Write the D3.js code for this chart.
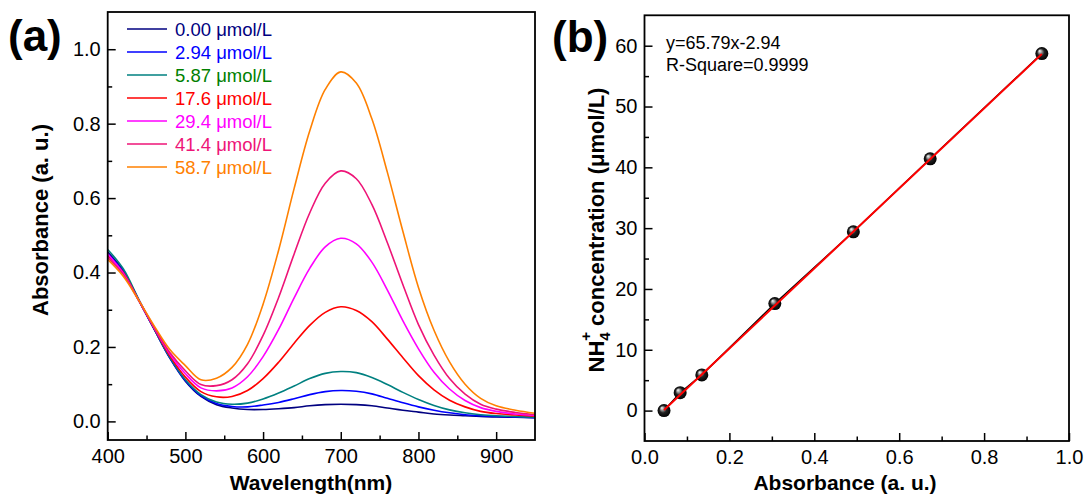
<!DOCTYPE html>
<html>
<head>
<meta charset="utf-8">
<script src="https://cdn.jsdelivr.net/npm/d3@7"></script>
<style>
  body { margin: 0; background: #fff; }
  svg { font-family: "Liberation Sans", Arial, sans-serif; }
</style>
</head>
<body>
<div id="chart"></div>
<script>
// wavelength grid (nm) for the spectra in panel (a)
const wavelengths = [400, 420, 440, 460, 480, 500, 520, 540, 560, 580, 600, 620, 640, 660,
  680, 700, 720, 740, 760, 780, 800, 820, 840, 860, 880, 900, 925, 950];

// absorbance, one array per concentration
const abs000 = [0.455, 0.405, 0.325, 0.247, 0.170, 0.108, 0.067, 0.045, 0.036, 0.032, 0.032, 0.034, 0.037, 0.042,
  0.045, 0.046, 0.045, 0.042, 0.036, 0.030, 0.025, 0.020, 0.017, 0.015, 0.013, 0.012, 0.011, 0.010];
const abs294 = [0.450, 0.403, 0.325, 0.247, 0.171, 0.110, 0.069, 0.048, 0.040, 0.039, 0.044, 0.051, 0.061, 0.072,
  0.080, 0.083, 0.081, 0.074, 0.062, 0.050, 0.039, 0.030, 0.023, 0.018, 0.015, 0.013, 0.012, 0.010];
const abs587 = [0.462, 0.410, 0.328, 0.248, 0.172, 0.112, 0.072, 0.052, 0.046, 0.049, 0.060, 0.076, 0.095, 0.115,
  0.129, 0.134, 0.131, 0.118, 0.099, 0.078, 0.059, 0.043, 0.031, 0.023, 0.018, 0.015, 0.013, 0.011];
const abs176 = [0.445, 0.400, 0.325, 0.249, 0.176, 0.119, 0.080, 0.066, 0.067, 0.083, 0.115, 0.159, 0.210, 0.258,
  0.293, 0.308, 0.298, 0.268, 0.221, 0.171, 0.123, 0.085, 0.057, 0.039, 0.027, 0.021, 0.017, 0.014];
const abs294b = [0.450, 0.398, 0.325, 0.251, 0.181, 0.128, 0.090, 0.082, 0.090, 0.120, 0.174, 0.247, 0.332, 0.411,
  0.469, 0.492, 0.477, 0.428, 0.353, 0.270, 0.195, 0.132, 0.087, 0.056, 0.037, 0.027, 0.020, 0.016];
const abs414 = [0.440, 0.395, 0.325, 0.253, 0.185, 0.136, 0.099, 0.096, 0.112, 0.155, 0.231, 0.333, 0.450, 0.560,
  0.640, 0.673, 0.652, 0.583, 0.480, 0.367, 0.260, 0.178, 0.115, 0.073, 0.046, 0.033, 0.024, 0.018];
const abs587b = [0.435, 0.390, 0.325, 0.256, 0.193, 0.150, 0.112, 0.116, 0.145, 0.207, 0.315, 0.460, 0.626, 0.780,
  0.892, 0.939, 0.909, 0.813, 0.669, 0.510, 0.360, 0.245, 0.160, 0.100, 0.062, 0.042, 0.030, 0.022];

const spectra = [abs000, abs294, abs587, abs176, abs294b, abs414, abs587b];
const legendLabels = ["0.00 μmol/L", "2.94 μmol/L", "5.87 μmol/L", "17.6 μmol/L",
  "29.4 μmol/L", "41.4 μmol/L", "58.7 μmol/L"];
const lineColors = ["#000080", "#0000ff", "#008080", "#ff0000", "#ff00ff", "#ee1477", "#ff8000"];
const textColors = ["#000080", "#0000ff", "#008000", "#ff0000", "#ff00ff", "#ee1477", "#ff8000"];

// calibration points for panel (b)
const calAbsorbance = [0.046, 0.084, 0.135, 0.307, 0.492, 0.673, 0.936];
const calConcentration = [0, 2.94, 5.87, 17.6, 29.4, 41.4, 58.7];
const fitSlope = 65.79;
const fitIntercept = -2.94;

const aTicksX = [400, 500, 600, 700, 800, 900];
const aMinorX = [450, 550, 650, 750, 850];
const aTicksY = [0, 0.2, 0.4, 0.6, 0.8, 1.0];
const aMinorY = [0.1, 0.3, 0.5, 0.7, 0.9];
const bTicksX = [0, 0.2, 0.4, 0.6, 0.8, 1.0];
const bMinorX = [0.1, 0.3, 0.5, 0.7, 0.9];
const bTicksY = [0, 10, 20, 30, 40, 50, 60];
const bMinorY = [5, 15, 25, 35, 45, 55];

const width = 1088, height = 500;

const svg = d3.select("#chart").append("svg")
  .attr("width", width)
  .attr("height", height);

// sphere marker fill
const grad = svg.append("defs").append("radialGradient")
  .attr("id", "ball")
  .attr("cx", "50%").attr("cy", "50%").attr("r", "50%")
  .attr("fx", "32%").attr("fy", "28%");
grad.append("stop").attr("offset", "0%").attr("stop-color", "#ffffff");
grad.append("stop").attr("offset", "22%").attr("stop-color", "#aaaaaa");
grad.append("stop").attr("offset", "55%").attr("stop-color", "#222222");
grad.append("stop").attr("offset", "100%").attr("stop-color", "#000000");

function drawAxes(x, y, ticksX, minorX, ticksY, minorY, fmtX, fmtY) {
  const [x0, x1] = x.range();
  const [y0, y1] = y.range();

  const gx = svg.append("g").attr("transform", `translate(0,${y0})`)
    .call(d3.axisBottom(x).tickValues(ticksX).tickFormat(fmtX)
      .tickSizeInner(-8).tickSizeOuter(0).tickPadding(9));
  svg.append("g").attr("transform", `translate(0,${y0})`)
    .call(d3.axisBottom(x).tickValues(minorX).tickFormat("")
      .tickSizeInner(-4.5).tickSizeOuter(0));

  const gy = svg.append("g").attr("transform", `translate(${x0},0)`)
    .call(d3.axisLeft(y).tickValues(ticksY).tickFormat(fmtY)
      .tickSizeInner(-8).tickSizeOuter(0).tickPadding(7));
  svg.append("g").attr("transform", `translate(${x0},0)`)
    .call(d3.axisLeft(y).tickValues(minorY).tickFormat("")
      .tickSizeInner(-4.5).tickSizeOuter(0));

  svg.selectAll(".domain").remove();
  svg.selectAll(".tick line").attr("stroke", "#000").attr("stroke-width", 1.5);
  [gx, gy].forEach((g) => g.selectAll("text")
    .attr("font-size", 20)
    .attr("fill", "#000")
    .style("font-family", "'Liberation Sans', Arial, sans-serif"));

  svg.append("rect")
    .attr("x", x0).attr("y", y1)
    .attr("width", x1 - x0).attr("height", y0 - y1)
    .attr("fill", "none")
    .attr("stroke", "#000")
    .attr("stroke-width", 1.8);
}

// ---------- panel (a) ----------
const xA = d3.scaleLinear().domain([400, 950]).range([107.7, 535]);
const yA = d3.scaleLinear().domain([-0.05, 1.1]).range([440, 12]);

const line = d3.line()
  .x((d, i) => xA(wavelengths[i]))
  .y((d) => yA(d))
  .curve(d3.curveCatmullRom.alpha(0.5));

const gA = svg.append("g");
spectra.forEach((s, i) => {
  gA.append("path")
    .datum(s)
    .attr("d", line)
    .attr("fill", "none")
    .attr("stroke", lineColors[i])
    .attr("stroke-width", 1.6);
});

drawAxes(xA, yA, aTicksX, aMinorX, aTicksY, aMinorY, d3.format(".0f"), d3.format(".1f"));

// legend
const legend = svg.append("g");
legendLabels.forEach((lab, i) => {
  const yy = 29 + i * 23;
  legend.append("line")
    .attr("x1", 127).attr("x2", 167)
    .attr("y1", yy).attr("y2", yy)
    .attr("stroke", lineColors[i])
    .attr("stroke-width", 1.6);
  legend.append("text")
    .attr("x", 175).attr("y", yy)
    .attr("dy", "0.36em")
    .attr("font-size", 18.5)
    .attr("fill", textColors[i])
    .text(lab);
});

svg.append("text")
  .attr("x", 8).attr("y", 51)
  .attr("font-size", 44).attr("font-weight", "bold")
  .text("(a)");

svg.append("text")
  .attr("x", 311).attr("y", 490)
  .attr("text-anchor", "middle")
  .attr("font-size", 21).attr("font-weight", "bold")
  .text("Wavelength(nm)");

svg.append("text")
  .attr("transform", "translate(48,220) rotate(-90)")
  .attr("text-anchor", "middle")
  .attr("font-size", 22).attr("font-weight", "bold")
  .text("Absorbance (a. u.)");

// ---------- panel (b) ----------
const xB = d3.scaleLinear().domain([0, 1.0]).range([644.5, 1069]);
const yB = d3.scaleLinear().domain([-5, 65]).range([441, 15.3]);

const calPoints = calAbsorbance.map((a, i) => ({ a, c: calConcentration[i] }));

svg.append("path")
  .datum(calPoints)
  .attr("d", d3.line().x((d) => xB(d.a)).y((d) => yB(d.c)))
  .attr("fill", "none")
  .attr("stroke", "#000")
  .attr("stroke-width", 1.5);

svg.selectAll("circle.cal")
  .data(calPoints)
  .enter()
  .append("circle")
  .attr("class", "cal")
  .attr("cx", (d) => xB(d.a))
  .attr("cy", (d) => yB(d.c))
  .attr("r", 6.5)
  .attr("fill", "url(#ball)");

const fitX = d3.extent(calAbsorbance);
svg.append("line")
  .attr("x1", xB(fitX[0])).attr("y1", yB(fitSlope * fitX[0] + fitIntercept))
  .attr("x2", xB(fitX[1])).attr("y2", yB(fitSlope * fitX[1] + fitIntercept))
  .attr("stroke", "#ff0000")
  .attr("stroke-width", 2);

drawAxes(xB, yB, bTicksX, bMinorX, bTicksY, bMinorY, d3.format(".1f"), d3.format(".0f"));

svg.append("text")
  .attr("x", 666).attr("y", 49)
  .attr("font-size", 18)
  .text(`y=${fitSlope}x${fitIntercept}`);
svg.append("text")
  .attr("x", 666).attr("y", 71)
  .attr("font-size", 18)
  .text("R-Square=0.9999");

svg.append("text")
  .attr("x", 552).attr("y", 52)
  .attr("font-size", 44).attr("font-weight", "bold")
  .text("(b)");

svg.append("text")
  .attr("x", 845).attr("y", 490)
  .attr("text-anchor", "middle")
  .attr("font-size", 21).attr("font-weight", "bold")
  .text("Absorbance (a. u.)");

const yTitleB = svg.append("text")
  .attr("transform", "translate(604,230) rotate(-90)")
  .attr("text-anchor", "middle")
  .attr("font-size", 22).attr("font-weight", "bold");
yTitleB.append("tspan").text("NH");
yTitleB.append("tspan").attr("font-size", 15).attr("dy", 6).text("4");
yTitleB.append("tspan").attr("font-size", 15).attr("dx", -8.5).attr("dy", -19).text("+");
yTitleB.append("tspan").attr("dy", 13).text(" concentration (μmol/L)");
</script>
</body>
</html>
